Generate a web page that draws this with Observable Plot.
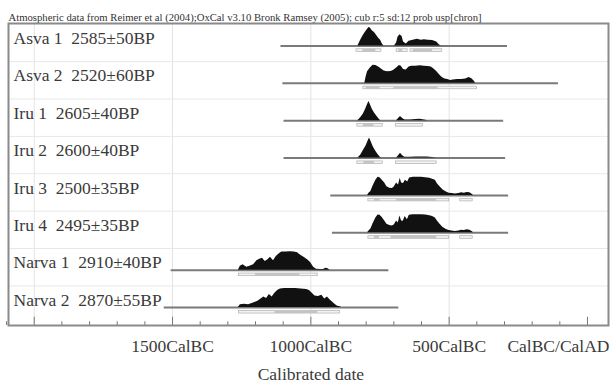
<!DOCTYPE html>
<html>
<head>
<meta charset="utf-8">
<script src="https://cdn.jsdelivr.net/npm/d3@7"></script>
<script src="https://cdn.jsdelivr.net/npm/@observablehq/plot@0.6"></script>
<style>
  html, body { margin: 0; padding: 0; background: #fff; }
</style>
</head>
<body>
<div id="chart"></div>
<script>
// ---- Data ----
const headerText = "Atmospheric data from Reimer et al (2004);OxCal v3.10 Bronk Ramsey (2005); cub r:5 sd:12 prob usp[chron]";
const axisTitle = "Calibrated date";
const names = ["Asva 1", "Asva 2", "Iru 1", "Iru 2", "Iru 3", "Iru 4", "Narva 1", "Narva 2"];
const bpDates = ["2585±50", "2520±60", "2605±40", "2600±40", "2500±35", "2495±35", "2910±40", "2870±55"];
const extentStart = [-1108, -1101, -1097, -1097, -928, -922, -1505, -1530];
const extentEnd = [-289, -105, -303, -296, -285, -285, -718, -682];

// probability profiles: [year (negative = BC), relative probability]
const asva1 = [[-830,0],[-820,0.3],[-809,0.58],[-799,0.8],[-790,0.97],[-785,0.94],[-778,0.8],[-770,0.7],[-762,0.55],[-755,0.4],[-748,0.3],[-742,0.12],[-736,0],[-698,0],[-690,0.15],[-685,0.45],[-678,0.58],[-670,0.5],[-665,0.2],[-655,0.1],[-645,0.25],[-630,0.3],[-615,0.35],[-600,0.3],[-590,0.33],[-575,0.3],[-560,0.28],[-545,0.2],[-535,0.05],[-528,0]];
const asva2 = [[-805,0],[-800,0.35],[-795,0.6],[-785,0.8],[-775,0.95],[-765,0.93],[-755,0.85],[-745,0.75],[-735,0.65],[-723,0.6],[-710,0.62],[-700,0.68],[-690,0.8],[-680,0.93],[-673,0.9],[-665,0.72],[-655,0.7],[-645,0.85],[-635,0.9],[-620,0.9],[-605,0.92],[-590,0.9],[-575,0.88],[-565,0.85],[-555,0.75],[-545,0.62],[-535,0.45],[-525,0.3],[-515,0.22],[-505,0.2],[-495,0.15],[-485,0.17],[-470,0.2],[-455,0.2],[-440,0.22],[-428,0.3],[-418,0.24],[-410,0.12],[-404,0]];
const iru1 = [[-830,0],[-820,0.15],[-810,0.35],[-802,0.6],[-795,0.85],[-790,1.0],[-785,0.85],[-778,0.6],[-770,0.4],[-762,0.25],[-755,0.12],[-748,0],[-690,0],[-683,0.12],[-676,0.22],[-668,0.12],[-660,0.03],[-640,0.03],[-620,0.06],[-605,0.07],[-595,0.05],[-585,0.02],[-575,0]];
const iru2 = [[-830,0],[-820,0.15],[-810,0.4],[-800,0.65],[-793,0.9],[-788,1.05],[-782,0.85],[-775,0.6],[-767,0.4],[-758,0.2],[-750,0.05],[-745,0],[-690,0],[-683,0.12],[-676,0.25],[-668,0.12],[-660,0.04],[-640,0.04],[-620,0.06],[-600,0.06],[-580,0.05],[-560,0.03],[-545,0]];
const iru3 = [[-795,0],[-790,0.12],[-783,0.2],[-775,0.5],[-765,0.8],[-757,0.95],[-750,0.93],[-742,0.8],[-733,0.65],[-725,0.45],[-715,0.38],[-705,0.37],[-698,0.45],[-690,0.65],[-683,0.55],[-677,0.9],[-672,0.65],[-665,0.62],[-658,0.8],[-650,0.7],[-643,0.92],[-630,0.95],[-615,0.95],[-600,0.95],[-585,0.93],[-570,0.9],[-560,0.85],[-550,0.8],[-542,0.6],[-533,0.45],[-522,0.28],[-510,0.18],[-500,0.12],[-490,0.1],[-478,0.07],[-465,0.1],[-455,0.14],[-445,0.12],[-435,0.15],[-425,0.14],[-416,0.05],[-412,0]];
const iru4 = [[-795,0],[-790,0.1],[-783,0.2],[-775,0.48],[-765,0.78],[-757,0.93],[-750,0.92],[-742,0.8],[-733,0.62],[-725,0.45],[-715,0.38],[-705,0.36],[-698,0.42],[-690,0.62],[-684,0.52],[-678,0.88],[-672,0.62],[-666,0.6],[-659,0.85],[-651,0.68],[-644,0.92],[-630,0.95],[-615,0.95],[-600,0.95],[-585,0.93],[-570,0.9],[-560,0.85],[-550,0.78],[-542,0.6],[-533,0.45],[-522,0.28],[-510,0.18],[-500,0.12],[-490,0.1],[-478,0.07],[-465,0.1],[-455,0.14],[-445,0.12],[-435,0.16],[-425,0.14],[-416,0.05],[-412,0]];
const narva1 = [[-1262,0],[-1255,0.2],[-1245,0.28],[-1232,0.15],[-1220,0.2],[-1207,0.28],[-1195,0.5],[-1185,0.58],[-1175,0.62],[-1165,0.45],[-1155,0.55],[-1146,0.68],[-1135,0.5],[-1125,0.72],[-1115,0.85],[-1105,0.95],[-1090,0.95],[-1075,0.97],[-1060,0.95],[-1048,0.92],[-1038,0.8],[-1025,0.68],[-1012,0.55],[-1001,0.4],[-990,0.15],[-980,0.05],[-965,0.04],[-955,0.04],[-945,0.1],[-938,0.08],[-930,0]];
const narva2 = [[-1262,0],[-1255,0.15],[-1240,0.18],[-1225,0.15],[-1210,0.22],[-1200,0.28],[-1190,0.35],[-1180,0.45],[-1170,0.55],[-1160,0.48],[-1150,0.68],[-1140,0.55],[-1130,0.75],[-1120,0.9],[-1110,0.97],[-1095,1.0],[-1075,1.0],[-1055,1.0],[-1035,0.98],[-1015,0.95],[-1005,0.9],[-995,0.75],[-985,0.6],[-973,0.58],[-960,0.65],[-950,0.45],[-940,0.55],[-930,0.4],[-915,0.2],[-905,0.08],[-895,0.04],[-888,0]];
const profiles = [asva1, asva2, iru1, iru2, iru3, iru4, narva1, narva2];

// highest posterior density ranges
const ranges68 = [
  [[-812,-765],[-682,-668],[-630,-560]],
  [[-800,-750],[-700,-540]],
  [[-810,-772]],
  [[-808,-770]],
  [[-770,-750],[-690,-545]],
  [[-770,-752],[-710,-545]],
  [[-1200,-1040]],
  [[-1130,-975]]
];
const ranges95 = [
  [[-835,-745],[-690,-650],[-640,-525]],
  [[-810,-400]],
  [[-832,-740],[-692,-595]],
  [[-832,-740],[-692,-545]],
  [[-792,-500],[-460,-415]],
  [[-792,-500],[-460,-415]],
  [[-1260,-975]],
  [[-1260,-895]]
];

const tickLabels = ["1500CalBC", "1000CalBC", "500CalBC"];
const tickLabelYears = [-1500, -1000, -500];
const lastTickLabel = "CalBC/CalAD";
const majorTickYears = [-2000, -1500, -1000, -500, 0];
const minorTickYears = [-2100,-1900,-1800,-1700,-1600,-1400,-1300,-1200,-1100,-900,-800,-700,-600,-400,-300,-200,-100];

// ---- Build tables ----
const rows = names.map((n, i) => ({row: i, label: `${n}\u00a0 ${bpDates[i]}BP`, start: extentStart[i], end: extentEnd[i]}));
const dens = profiles.flatMap((p, i) => p.map(([year, prob]) => ({row: i, year, prob})));
const r68 = ranges68.flatMap((rs, i) => rs.map(([a, b]) => ({row: i, a, b})));
const r95 = ranges95.flatMap((rs, i) => rs.map(([a, b]) => ({row: i, a, b})));

const yBottom = 7.48, yTop = -0.6;
const H = 0.51;           // height of a probability of 1, in row units
const serif = "Liberation Serif, Times New Roman, serif";

const chart = Plot.plot({
  width: 613,
  height: 386,
  marginLeft: 8,
  marginRight: 5,
  marginTop: 23,
  marginBottom: 61,
  style: {fontFamily: serif, background: "#fff"},
  x: {domain: [-2093, 76], axis: null},
  y: {domain: [yBottom, yTop], axis: null},
  marks: [
    // faint grid
    Plot.ruleX(majorTickYears.slice(0, 4), {stroke: "#e4e4e4", strokeWidth: 1}),
    Plot.ruleY(d3.range(0, 7), {y: d => d + 0.42, stroke: "#e8e8e8", strokeWidth: 1}),
    // calibrated extent lines
    Plot.ruleY(rows, {y: "row", x1: "start", x2: "end", stroke: "#7a7a7a", strokeWidth: 2}),
    // probability distributions
    Plot.areaY(dens, {x: "year", y1: "row", y2: d => d.row - d.prob * H, z: "row", fill: "#111", curve: "linear"}),
    // ranges
    Plot.rect(r95, {x1: "a", x2: "b", y1: d => d.row + 0.09, y2: d => d.row + 0.16, fill: "#f2f2f2", stroke: "#b0b0b0", strokeWidth: 0.7}),
    Plot.rect(r68, {x1: "a", x2: "b", y1: d => d.row + 0.09, y2: d => d.row + 0.16, fill: "#c4c4c4"}),
    // row labels
    Plot.text(rows, {text: "label", y: d => d.row - 0.2, frameAnchor: "left", dx: 5, textAnchor: "start", fontSize: 17.5, fill: "#3a3a3a", fontFamily: serif}),
    // axis ticks (pointing up from the frame bottom)
    Plot.ruleX(minorTickYears, {x: d => d, y1: yBottom, y2: yBottom - 0.1, stroke: "#777", strokeWidth: 1}),
    Plot.ruleX(majorTickYears, {x: d => d, y1: yBottom, y2: yBottom - 0.22, stroke: "#777", strokeWidth: 1}),
    // tick labels
    Plot.text(tickLabels, {x: (d, i) => tickLabelYears[i], text: d => d, frameAnchor: "bottom", dy: 26, fontSize: 17.5, fill: "#3a3a3a", fontFamily: serif}),
    Plot.text([lastTickLabel], {x: 0, text: d => d, frameAnchor: "bottom", dy: 26, dx: 22, textAnchor: "end", fontSize: 17.5, fill: "#3a3a3a", fontFamily: serif}),
    Plot.text([axisTitle], {x: -1000, text: d => d, frameAnchor: "bottom", dy: 54, fontSize: 17.5, fill: "#3a3a3a", fontFamily: serif}),
    // header
    Plot.text([headerText], {text: d => d, frameAnchor: "top-left", dy: -10, dx: 0, textAnchor: "start", fontSize: 10.7, fill: "#333", fontFamily: serif}),
    // frame
    Plot.frame({stroke: "#8a8a8a", strokeWidth: 2})
  ]
});
document.getElementById("chart").appendChild(chart);
</script>
</body>
</html>
